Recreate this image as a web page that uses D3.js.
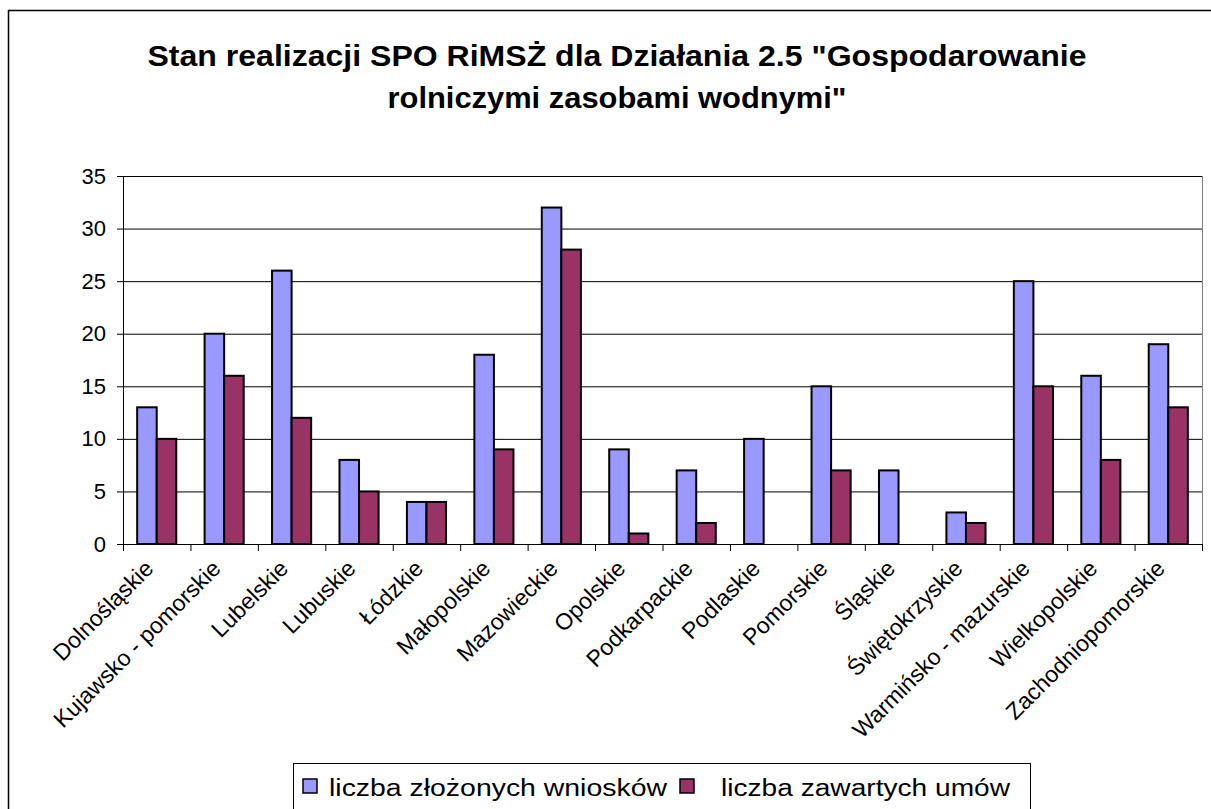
<!DOCTYPE html>
<html>
<head>
<meta charset="utf-8">
<script src="https://cdn.jsdelivr.net/npm/d3@7"></script>
<style>
  body { margin: 0; background: #fff; }
  svg { display: block; font-family: "Liberation Sans", Arial, sans-serif; }
</style>
</head>
<body>
<svg id="chart" width="1211" height="809"></svg>
<script>
// data
const categories = ["Dolnośląskie", "Kujawsko - pomorskie", "Lubelskie", "Lubuskie", "Łódzkie",
  "Małopolskie", "Mazowieckie", "Opolskie", "Podkarpackie", "Podlaskie", "Pomorskie",
  "Śląskie", "Świętokrzyskie", "Warmińsko - mazurskie", "Wielkopolskie", "Zachodniopomorskie"];
const wnioski = [13, 20, 26, 8, 4, 18, 32, 9, 7, 10, 15, 7, 3, 25, 16, 19];
const umowy   = [10, 16, 12, 5, 4, 9, 28, 1, 2, 0, 7, 0, 2, 15, 8, 13];
const seriesNames = ["liczba złożonych wniosków", "liczba zawartych umów"];
const seriesColors = ["#9999ff", "#993366"];
const yTicks = [0, 5, 10, 15, 20, 25, 30, 35];
const titleLines = ["Stan realizacji SPO RiMSŻ  dla Działania 2.5 \"Gospodarowanie",
  "rolniczymi zasobami wodnymi\""];

const svg = d3.select("#chart");

// outer frame (cut off by the picture on right/bottom)
svg.append("rect")
  .attr("x", 8.5).attr("y", 10.5).attr("width", 1230).attr("height", 820)
  .attr("fill", "none").attr("stroke", "#000").attr("stroke-width", 1.5);

// title, stretched a little wider like the original
const titleWidths = [939, 459];
svg.append("g").selectAll("text")
  .data(titleLines)
  .enter().append("text")
  .attr("x", 617).attr("y", (d, i) => 66 + i * 42)
  .attr("text-anchor", "middle")
  .attr("font-size", 29).attr("font-weight", "bold")
  .attr("textLength", (d, i) => titleWidths[i]).attr("lengthAdjust", "spacingAndGlyphs")
  .text(d => d);

const plot = {left: 123, right: 1202, top: 176, bottom: 544};

const x = d3.scaleBand().domain(categories).range([plot.left, plot.right]);
const y = d3.scaleLinear().domain([0, 35]).range([plot.bottom, plot.top]);

// gridlines
svg.append("g").selectAll("line")
  .data(yTicks.slice(1))
  .enter().append("line")
  .attr("x1", plot.left).attr("x2", plot.right)
  .attr("y1", d => y(d) + 0.5).attr("y2", d => y(d) + 0.5)
  .attr("stroke", "#000").attr("stroke-width", 1);

// right border of plot area
svg.append("line")
  .attr("x1", plot.right + 0.5).attr("x2", plot.right + 0.5)
  .attr("y1", plot.top).attr("y2", plot.bottom)
  .attr("stroke", "#808080").attr("stroke-width", 1);

// bars
const barW = x.bandwidth() * 0.29;
const series = [wnioski, umowy];
series.forEach((vals, s) => {
  svg.append("g").selectAll("rect")
    .data(vals)
    .enter().append("rect")
    .attr("x", (d, i) => x(categories[i]) + x.bandwidth() / 2 - barW + s * barW)
    .attr("y", d => y(d))
    .attr("width", barW)
    .attr("height", d => y(0) - y(d))
    .attr("fill", seriesColors[s])
    .attr("stroke", "#000").attr("stroke-width", 2)
    .attr("display", d => d === 0 ? "none" : null);
});

// y axis
const yAxis = svg.append("g")
  .attr("transform", `translate(${plot.left},0)`)
  .call(d3.axisLeft(y).tickValues(yTicks).tickSize(6).tickPadding(11));
yAxis.select(".domain").attr("stroke", "#000");
yAxis.selectAll(".tick line").attr("stroke", "#000");
yAxis.selectAll(".tick text").attr("font-size", 22).attr("fill", "#000")
  .attr("font-family", "Liberation Sans, Arial, sans-serif");

// x axis: ticks sit on category boundaries
const xAxis = svg.append("g").attr("transform", `translate(0,${plot.bottom})`);
xAxis.append("line")
  .attr("x1", plot.left).attr("x2", plot.right)
  .attr("y1", 0.5).attr("y2", 0.5)
  .attr("stroke", "#000");
xAxis.selectAll(".xtick")
  .data(categories.concat([null]))
  .enter().append("line")
  .attr("class", "xtick")
  .attr("x1", (d, i) => plot.left + i * x.bandwidth() + 0.5)
  .attr("x2", (d, i) => plot.left + i * x.bandwidth() + 0.5)
  .attr("y1", 0).attr("y2", 7)
  .attr("stroke", "#000");
xAxis.selectAll(".xlabel")
  .data(categories)
  .enter().append("text")
  .attr("class", "xlabel")
  .attr("text-anchor", "end")
  .attr("font-size", 23)
  .attr("transform", d => `translate(${x(d) + x.bandwidth() / 2 - 2},${26}) rotate(-45)`)
  .text(d => d);

// legend
const legend = svg.append("g");
legend.append("rect")
  .attr("x", 293.5).attr("y", 763.5).attr("width", 737).attr("height", 60)
  .attr("fill", "#fff").attr("stroke", "#000").attr("stroke-width", 1);
const legendItems = [
  {sx: 303, tx: 329, tw: 338},
  {sx: 680, tx: 721, tw: 289}
];
legendItems.forEach((it, i) => {
  legend.append("rect")
    .attr("x", it.sx).attr("y", 779).attr("width", 14).attr("height", 14)
    .attr("fill", seriesColors[i]).attr("stroke", "#000").attr("stroke-width", 1.5);
  legend.append("text")
    .attr("x", it.tx).attr("y", 796)
    .attr("font-size", 23)
    .attr("textLength", it.tw).attr("lengthAdjust", "spacingAndGlyphs")
    .text(seriesNames[i]);
});
</script>
</body>
</html>
